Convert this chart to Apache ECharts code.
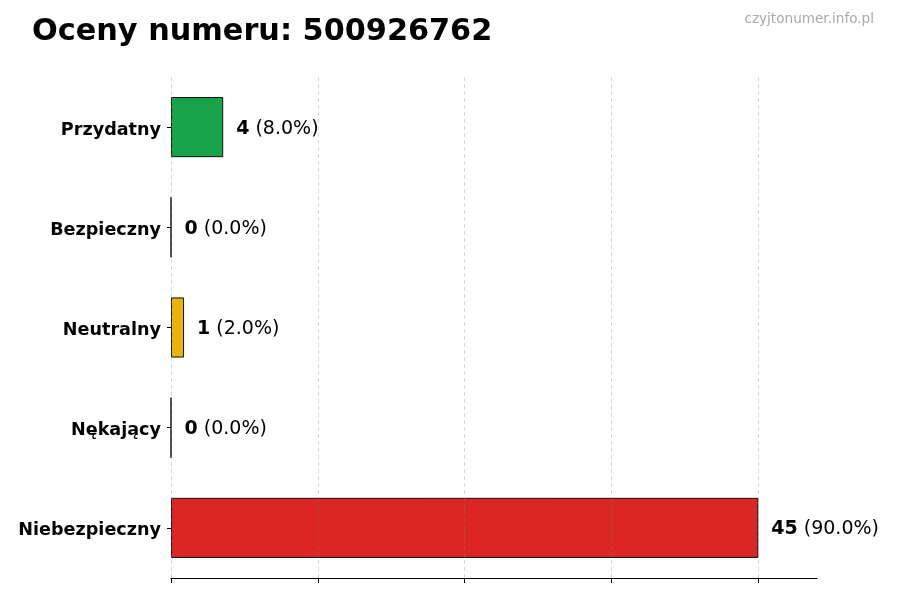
<!DOCTYPE html>
<html lang="pl">
<head>
    <meta charset="UTF-8">
    <title>Oceny numeru</title>
    <script src="https://cdn.jsdelivr.net/npm/echarts@6/dist/echarts.min.js"></script>
    <style>
        html, body { margin: 0; padding: 0; background: #fff; }
    </style>
</head>
<body>
<div id="main" style="width: 900px;height:600px;"></div>

<script type="text/javascript">
    // kategorie od góry do dołu
    var categories = ['Przydatny', 'Bezpieczny', 'Neutralny', 'Nękający', 'Niebezpieczny'];
    var counts = [4, 0, 1, 0, 45];
    var percents = ['8.0', '0.0', '2.0', '0.0', '90.0'];
    var colors = ['#16a34a', '#3b82f6', '#eab308', '#f97316', '#dc2626'];
    var tickValues = [0, 11.25, 22.5, 33.75, 45];

    var data = [];
    for (var i = 0; i < categories.length; i++) {
        data.push({
            value: counts[i],
            itemStyle: { color: colors[i] }
        });
    }

    // siatka pionowa rysowana nad słupkami (półprzezroczysta)
    var gridLines = [];
    for (var j = 0; j < tickValues.length; j++) {
        gridLines.push({ xAxis: tickValues[j] });
    }

    var myChart = echarts.init(document.getElementById('main'));

    var option = {
        animation: false,
        textStyle: { fontFamily: 'DejaVu Sans' },
        title: [
            {
                text: 'Oceny numeru: 500926762',
                left: 27,
                top: 12,
                textStyle: { fontSize: 30.3, fontWeight: 'bold', color: '#000', fontFamily: 'DejaVu Sans' }
            },
            {
                text: 'czyjtonumer.info.pl',
                right: 21,
                top: 7,
                textStyle: { fontSize: 13.6, fontWeight: 'normal', color: '#aaaaaa', fontFamily: 'DejaVu Sans' }
            }
        ],
        grid: { left: 171, right: 83, top: 77, bottom: 22 },
        xAxis: {
            type: 'value',
            min: 0,
            max: 49.5,
            interval: 11.25,
            axisLabel: { show: false },
            axisLine: { show: true, lineStyle: { color: '#000', width: 1.2 } },
            axisTick: { show: true, length: 5, customValues: tickValues, lineStyle: { color: '#000' } },
            splitLine: { show: false }
        },
        yAxis: {
            type: 'category',
            data: categories,
            inverse: true,
            axisLine: { show: false },
            axisTick: { show: true, length: 4, alignWithLabel: true, lineStyle: { color: '#000' } },
            axisLabel: {
                margin: 10,
                formatter: function (v) { return '{c|' + v + '}'; },
                rich: {
                    c: { color: '#000', fontSize: 17.6, fontWeight: 'bold', fontFamily: 'DejaVu Sans', padding: [6, 0, 0, 0] }
                }
            }
        },
        series: [
            {
                type: 'bar',
                data: data,
                barWidth: '60%',
                itemStyle: { borderColor: '#111', borderWidth: 1 },
                label: {
                    show: true,
                    position: 'right',
                    distance: 13,
                    formatter: function (p) {
                        return '{b|' + counts[p.dataIndex] + '}{n| (' + percents[p.dataIndex] + '%)}';
                    },
                    rich: {
                        b: { fontSize: 19, fontWeight: 'bold', color: '#000', fontFamily: 'DejaVu Sans', padding: [3, 0, 0, 0] },
                        n: { fontSize: 19, color: '#000', fontFamily: 'DejaVu Sans', padding: [3, 0, 0, 0] }
                    }
                },
                markLine: {
                    silent: true,
                    symbol: 'none',
                    label: { show: false },
                    lineStyle: { type: [4, 3], color: 'rgba(128,128,128,0.3)', width: 1 },
                    data: gridLines
                }
            }
        ]
    };
    myChart.setOption(option);
</script>
</body>
</html>
